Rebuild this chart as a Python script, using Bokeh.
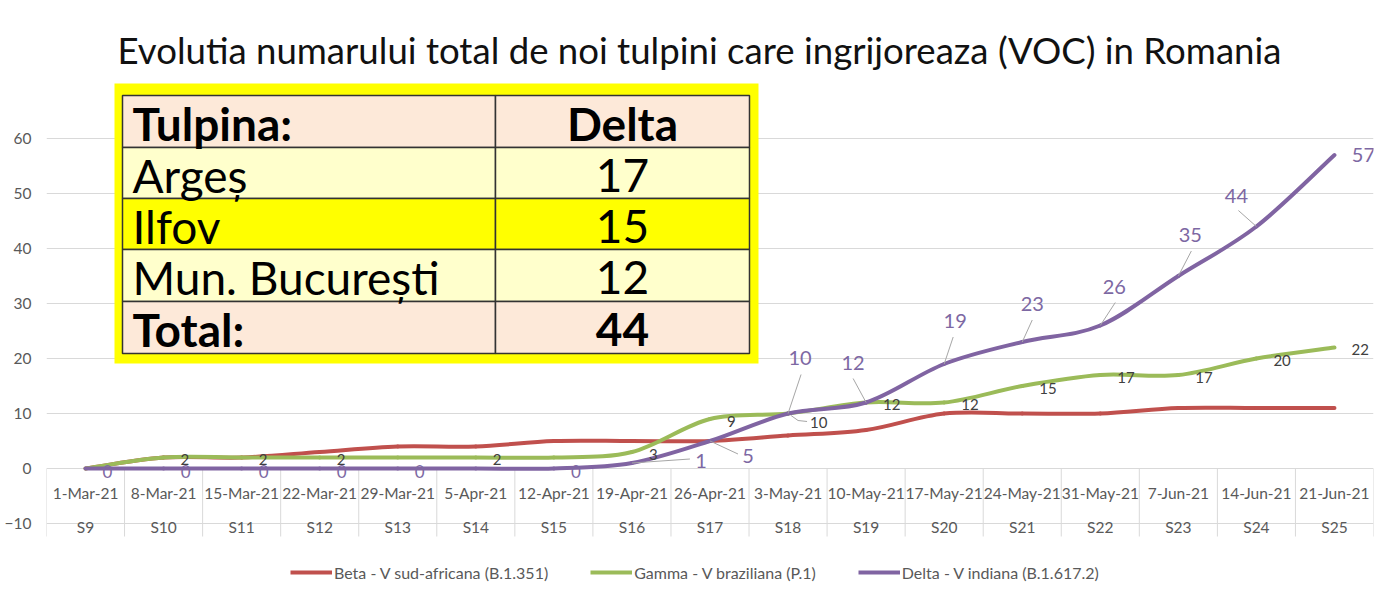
import numpy as np

from bokeh.plotting import figure
from bokeh.models import Range1d, FixedTicker, Legend, LegendItem, ColumnDataSource
from bokeh.core.properties import value
from bokeh.embed import file_html
from bokeh.resources import INLINE

#date
saptamani = ["S9", "S10", "S11", "S12", "S13", "S14", "S15", "S16", "S17",
             "S18", "S19", "S20", "S21", "S22", "S23", "S24", "S25"]
date = ["1-Mar-21", "8-Mar-21", "15-Mar-21", "22-Mar-21", "29-Mar-21", "5-Apr-21",
        "12-Apr-21", "19-Apr-21", "26-Apr-21", "3-May-21", "10-May-21", "17-May-21",
        "24-May-21", "31-May-21", "7-Jun-21", "14-Jun-21", "21-Jun-21"]
beta = [0, 2, 2, 3, 4, 4, 5, 5, 5, 6, 7, 10, 10, 10, 11, 11, 11]
gamma = [0, 2, 2, 2, 2, 2, 2, 3, 9, 10, 12, 12, 15, 17, 17, 20, 22]
delta = [0, 0, 0, 0, 0, 0, 0, 1, 5, 10, 12, 19, 23, 26, 35, 44, 57]
y_ticks = [-10, 0, 10, 20, 30, 40, 50, 60]

nume_serii = ["Beta - V sud-africana (B.1.351)",
              "Gamma - V braziliana (P.1)",
              "Delta - V indiana (B.1.617.2)"]
culori = ["#c0504d", "#9bbb59", "#8064a2"]

tabel_antet = ["Tulpina:", "Delta"]
tabel_judete = ["Argeș", "Ilfov", "Mun. București"]
tabel_valori = [17, 15, 12]
tabel_total = ["Total:", "44"]

titlu = "Evolutia numarului total de noi tulpini care ingrijoreaza (VOC) in Romania"

FONT = "Lato"
GRI = "#595959"

#geometrie (pixeli din imaginea de referinta)
X0, XPX = 88.03, 78.06      # centrul primei categorii, latimea unei categorii
Y0, YPX = 468.0, 5.5        # linia de 0, pixeli pe unitate
OX, OY = 3, 0               # decalaj pagina -> imagine


def dx(px):
    return (px - X0) / XPX


def dy(py):
    return (Y0 - py) / YPX


#pozitii etichete (pixeli fata de punct, y in jos)
delta_lbl = {0: (22, 3), 1: (22, 3), 2: (22, 3), 3: (22, 3), 4: (22, 3), 6: (22, 3),
             7: (69, -2), 8: (38, 15), 9: (12, -56), 10: (-13, -40), 11: (11, -43),
             12: (10, -38), 13: (14, -39), 14: (12, -41), 15: (-20, -31), 16: (29, 0)}
delta_leader = {7: (58, -4), 8: (28, 13), 9: (13, -39), 10: (-13, -24), 11: (9, -27),
                12: (10, -22), 13: (15, -23), 14: (13, -25), 15: (-18, -16)}
gamma_lbl = {i: (17, 2) for i in range(len(gamma)) if i not in (0, 4, 6)}
gamma_lbl[9] = (22, 9)
gamma_leader = {9: (19, 8)}


def bezier_src(vals):
    n = len(vals)
    xs = np.arange(n, dtype=float)
    ys = np.asarray(vals, dtype=float)
    i = np.arange(n - 1)
    p0 = np.maximum(i - 1, 0)
    p3 = np.minimum(i + 2, n - 1)
    return ColumnDataSource(dict(
        x0=xs[i], y0=ys[i], x1=xs[i + 1], y1=ys[i + 1],
        cx0=xs[i] + (xs[i + 1] - xs[p0]) / 6, cy0=ys[i] + (ys[i + 1] - ys[p0]) / 6,
        cx1=xs[i + 1] - (xs[p3] - xs[i]) / 6, cy1=ys[i + 1] - (ys[p3] - ys[i]) / 6))


W, H = 1384, 587
frame_l, frame_r, frame_t = 49 - OX, 1376 - OX, 78 - OY
p = figure(width=W, height=H, output_backend="svg", toolbar_location=None,
           x_range=Range1d(-0.5, 16.5), y_range=Range1d(dy(H + OY), dy(78)),
           min_border_left=frame_l, min_border_right=W - frame_r,
           min_border_top=frame_t, min_border_bottom=0, title=titlu)
p.outline_line_color = None
p.background_fill_color = "white"
p.border_fill_color = "white"

p.title.align = "left"
p.title.offset = 120 - 49
p.title.text_font = FONT
p.title.text_font_style = "normal"
p.title.text_font_size = "36.6px"
p.title.text_color = "#111111"
p.title.standoff = 14

#axe
p.xaxis.visible = False
p.xgrid.visible = False
p.yaxis.ticker = FixedTicker(ticks=y_ticks)
p.ygrid.ticker = FixedTicker(ticks=y_ticks)
p.ygrid.grid_line_color = "#d9d9d9"
p.yaxis.axis_line_color = None
p.yaxis.major_tick_line_color = None
p.yaxis.minor_tick_line_color = None
p.yaxis.major_tick_out = 0
p.yaxis.major_label_standoff = 15
p.yaxis.major_label_text_font = FONT
p.yaxis.major_label_text_font_size = "15.5px"
p.yaxis.major_label_text_color = GRI

#etichete categorii
idx = list(range(len(date)))
sep = np.arange(len(date) + 1) - 0.5
p.segment(x0=sep, y0=0, x1=sep, y1=dy(536), line_color="#d9d9d9", line_width=1)
p.text(x=idx, y=[dy(492)] * len(idx), text=date, text_align="center",
       text_baseline="middle", text_font=value(FONT), text_font_size="15.5px",
       text_color=GRI)
p.text(x=idx, y=[dy(526)] * len(idx), text=saptamani, text_align="center",
       text_baseline="middle", text_font=value(FONT), text_font_size="15.5px",
       text_color=GRI)

#linii netezite
for vals, col in zip([beta, gamma, delta], culori):
    p.bezier(x0="x0", y0="y0", x1="x1", y1="y1", cx0="cx0", cy0="cy0",
             cx1="cx1", cy1="cy1", source=bezier_src(vals),
             line_color=col, line_width=4, line_cap="round")

#etichete gamma
gk = sorted(gamma_lbl)
p.text(x=[k + gamma_lbl[k][0] / XPX for k in gk],
       y=[gamma[k] - gamma_lbl[k][1] / YPX for k in gk],
       text=[str(gamma[k]) for k in gk], text_align="left", text_baseline="middle",
       text_font=value(FONT), text_font_size="15px", text_color="#404040")
for k, (ex, ey) in gamma_leader.items():
    p.line(x=[k + 3 / XPX, k + 10 / XPX, k + ex / XPX],
           y=[gamma[k] - 2 / YPX, gamma[k] - 7 / YPX, gamma[k] - ey / YPX],
           line_color="#a6a6a6", line_width=1)

#etichete delta
for k, (ex, ey) in delta_leader.items():
    p.segment(x0=k, y0=delta[k], x1=k + ex / XPX, y1=delta[k] - ey / YPX,
              line_color="#a6a6a6", line_width=1)
dk = sorted(delta_lbl)
p.text(x=[k + delta_lbl[k][0] / XPX for k in dk],
       y=[delta[k] - delta_lbl[k][1] / YPX for k in dk],
       text=[str(delta[k]) for k in dk], text_align="center", text_baseline="middle",
       text_font=value(FONT),
       text_font_size=["17px" if delta[k] == 0 else "20px" for k in dk],
       text_color="#7d68a3")

#tabel
p.quad(left=dx(117), right=dx(761), top=dy(83), bottom=dy(363),
       fill_color="#ffff00", line_color=None)
cols = [125, 498, 752]
rows = [95, 147, 198, 249, 301, 353]
fills = ["#fde9d9", "#ffffcc", "#ffff00", "#ffffcc", "#fde9d9"]
left, right, top, bottom, fc = [], [], [], [], []
for r in range(5):
    for c in range(2):
        left.append(dx(cols[c]))
        right.append(dx(cols[c + 1]))
        top.append(dy(rows[r]))
        bottom.append(dy(rows[r + 1]))
        fc.append(fills[r])
p.quad(left=left, right=right, top=top, bottom=bottom, fill_color=fc,
       line_color="#333333", line_width=1.5)

col1 = [tabel_antet[0]] + tabel_judete + [tabel_total[0]]
col2 = [tabel_antet[1]] + [str(v) for v in tabel_valori] + [tabel_total[1]]
stil = ["bold", "normal", "normal", "normal", "bold"]
mid_y = [dy((rows[r] + rows[r + 1]) / 2 + 2) for r in range(5)]
p.text(x=[dx(135)] * 5, y=mid_y, text=col1, text_align="left",
       text_baseline="middle", text_font=value(FONT), text_font_size="46px",
       text_font_style=stil, text_color="black")
p.text(x=[dx(625)] * 5, y=mid_y, text=col2, text_align="center",
       text_baseline="middle", text_font=value(FONT), text_font_size="46px",
       text_font_style=stil, text_color="black")

#legenda
items = []
for nume, col in zip(nume_serii, culori):
    r = p.line(x=[np.nan], y=[np.nan], line_color=col, line_width=4)
    items.append(LegendItem(label=nume, renderers=[r]))
legend = Legend(items=items, orientation="horizontal", location=(293 - 49, 5),
                glyph_width=42, glyph_height=20, label_height=20, label_standoff=2,
                spacing=42, margin=0, padding=0, border_line_color=None,
                background_fill_alpha=0, label_text_font=FONT,
                label_text_font_size="16px", label_text_color=GRI)
p.add_layout(legend, "center")

open("out.html", "w").write(file_html(p, INLINE))
